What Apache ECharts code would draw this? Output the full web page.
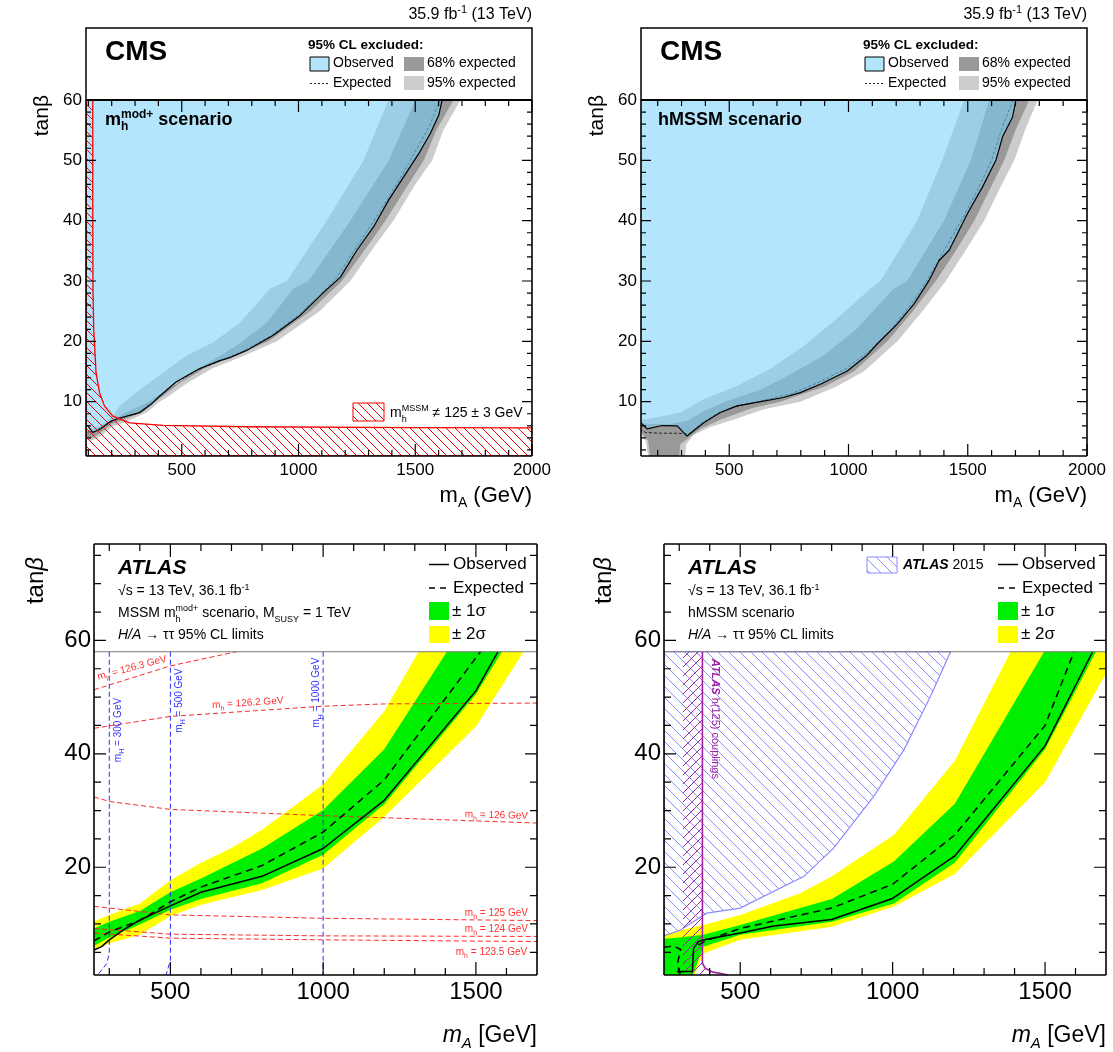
<!DOCTYPE html>
<html>
<head>
<meta charset="utf-8">
<script src="https://cdn.jsdelivr.net/npm/echarts@6/dist/echarts.min.js"></script>
<style>
html, body { margin: 0; background: #fff; }
#chart { width: 1113px; height: 1052px; }
</style>
</head>
<body>
<div id="chart"></div>
<script>
var FONT = '"Liberation Sans", Arial, Helvetica, sans-serif';

// ---- tick labels
var cmsXMajor = [500, 1000, 1500, 2000];
var cmsYMajor = [10, 20, 30, 40, 50, 60];
var atlasXMajor = [500, 1000, 1500];
var atlasYMajor = [20, 40, 60];

// ---- CMS, mh mod+ scenario (mA, tanb), contours from the top edge down to the left edge
var modObs = [[1615,60],[1601,57.5],[1565,54.5],[1515,51.1],[1451,47.3],[1386,43.4],[1322,39.0],[1250,35.1],[1179,30.6],[1110,28.2],[1007,24.3],[892,21.0],[778,18.5],[706,17.3],[663,16.8],[577,15.5],[477,13.3],[405,10.9],[370,9.6],[320,8.2],[234,7.3],[198,6.8],[148,5.4],[119,4.9],[98,6.0],[90,6.0]];
var modExp = [[1605,60],[1560,55.6],[1500,51.5],[1440,47.3],[1375,43.2],[1310,39.2],[1240,35.2],[1165,30.6],[1090,27.6],[995,24.2],[880,20.9],[765,18.4],[690,17.2],[570,15.3],[470,13.1],[400,10.8],[360,9.5],[310,8.1],[230,7.2],[180,6.4],[130,5.1],[100,5.0],[90,5.0]];
var modIn95 = [[1385,60],[1279,50],[1121,40],[950,30],[878,28.7],[749,23.1],[634,19.8],[520,17.6],[420,14.8],[320,12.0],[234,9.3],[205,7.6],[150,6.0],[100,5.5],[90,5.5]];
var modIn68 = [[1500,60],[1387,50],[1222,40],[1043,30],[978,28.7],[864,23.1],[735,19.3],[592,15.9],[463,12.6],[348,9.8],[248,7.9],[180,6.5],[120,5.0],[90,5.0]];
var modOut68 = [[1664,60],[1590,55],[1537,50],[1470,46],[1372,40],[1300,36],[1186,30],[1050,25],[871,20],[720,17.5],[600,15.6],[495,13.2],[420,11],[384,10],[335,8.3],[250,7],[200,6.3],[150,4.8],[110,3.8],[90,4.2]];
var modOut95 = [[1694,60],[1620,55],[1573,50],[1500,46],[1406,40],[1330,36],[1222,30],[1090,25],[907,20],[760,17.5],[630,15.5],[520,13],[440,10.8],[405,10],[350,8.2],[270,6.8],[200,5.8],[150,4.2],[110,3.5],[90,3.8]];
var modHatch = [[90,60],[119,60],[119,40],[120,28.6],[123,22],[126,20],[133,14.8],[148,11.5],[169,9.3],[205,7.6],[277,6.5],[420,6.06],[778,5.85],[1479,5.7],[2000,5.65],[2000,1],[90,1]];

// ---- CMS, hMSSM scenario
var hObs = [[1702,60],[1688,57.2],[1646,53.9],[1618,50],[1562,45.6],[1499,41.2],[1422,35.1],[1380,33.4],[1338,30.1],[1275,26.2],[1205,22.9],[1121,19.6],[1075,17.6],[995,15.1],[882,12.9],[798,11.5],[727,10.7],[644,10.1],[532,9.3],[462,8.2],[393,6.5],[323,4.3],[282,6.0],[219,6.05],[156,5.5],[131,6.5]];
var hExp = [[1690,60],[1640,55],[1600,50],[1540,45],[1480,40.5],[1400,35],[1320,29.5],[1250,25.5],[1180,22],[1090,18.5],[990,15.5],[880,13.3],[760,11.3],[640,10.2],[520,9.1],[440,7.8],[380,6.3],[330,4.7],[290,4.75],[200,4.8],[150,4.9],[131,5.3]];
var hIn95 = [[1485,60],[1393,50],[1288,40],[1134,30],[1089,28.65],[950,23.7],[811,19.2],[671,15.4],[532,12.6],[393,10.4],[295,8.2],[184,7.3],[131,7.0]];
var hIn68 = [[1590,60],[1513,50],[1400,40],[1246,30],[1187,28.65],[1033,22],[894,17.6],[755,14.5],[630,12],[490,10.1],[393,8.4],[323,6.8],[250,6.3],[180,6.3],[131,6.2]];
var hOut68 = [[1758,60],[1700,55],[1653,50],[1590,45],[1527,40],[1450,35],[1366,30],[1270,25],[1163,20],[1022,15],[900,12.5],[714,10],[600,9.0],[462,7.0],[380,5.5],[330,4.0],[295,3.0],[290,1],[168,1],[160,3.5],[140,4.5],[131,5.0]];
var hOut95 = [[1793,60],[1740,55],[1695,50],[1630,45],[1569,40],[1490,35],[1408,30],[1310,25],[1205,20],[1064,15],[950,12.5],[798,10],[650,8.8],[517,7.0],[420,5.8],[350,4.5],[320,3],[315,1],[160,1],[150,3.5],[131,4.5]];

// ---- ATLAS, mh mod+ scenario
var aObsL = [[250,5.4],[275,6.0],[300,7.2],[350,9.1],[400,10.7],[500,13.2],[600,15.6],[800,18.4],[1000,23.3],[1200,31.8],[1500,51.1],[1572,58]];
var aExpL = [[250,7.0],[300,8.6],[400,10.6],[500,13.9],[600,16.5],[800,20.3],[1000,26.2],[1200,35.4],[1515,58]];
var aSig1UpL = [[250,9.2],[300,10.4],[400,12.3],[500,15.6],[600,18.0],[800,23.3],[1000,30.1],[1200,40.8],[1405,58]];
var aSig1LoL = [[250,6.1],[300,7.6],[400,9.9],[500,12.5],[600,14.4],[800,17.2],[1000,22.2],[1200,31.1],[1500,50.5],[1585,58]];
var aSig2UpL = [[250,10.5],[300,11.6],[400,13.6],[500,17.7],[600,20.8],[700,23.4],[800,26.6],[1000,34.6],[1200,47.5],[1312,58]];
var aSig2LoL = [[250,5.4],[300,6.6],[400,8.1],[500,11.4],[600,13.4],[800,16.0],[1000,19.8],[1200,28.9],[1500,44.8],[1656,58]];
var mh1263 = [[250,51.3],[500,55.5],[716,58]];
var mh1262 = [[250,44.5],[500,46.6],[1000,48.4],[1200,48.8],[1700,48.95]];
var mh126 = [[250,32.4],[300,31.6],[500,30.2],[1000,29.1],[1700,27.8]];
var mh125 = [[250,13.1],[500,11.6],[1000,11.0],[1700,10.6]];
var mh124 = [[250,9.2],[500,8.2],[1000,7.9],[1700,7.8]];
var mh1235 = [[250,8.4],[500,7.5],[1000,7.2],[1700,6.9]];
var mH300 = [[300,58],[300,5],[292,3],[262,1]];
var mH500 = [[500,58],[500,3.6],[486,1]];
var mH1000 = [[1000,58],[1000,1]];

// ---- ATLAS, hMSSM scenario
var aObsR = [[292,1.6],[343,1.6],[347,5.7],[363,6.9],[390,7.3],[500,8.4],[610,9.65],[800,10.8],[1000,14.5],[1204,22.0],[1500,41.4],[1656,58]];
var aExpR = [[363,6.3],[390,7.1],[500,9.2],[800,12.8],[1000,17.0],[1204,25.7],[1500,45.0],[1595,58]];
var aExpR2 = [[250,5.9],[281,6.1],[305,5.5],[300,4.5],[295,3.1],[298,1.9],[305,1.3]];
var aSig1UpR = [[250,7.4],[300,7.6],[379,8.1],[500,9.8],[801,14.4],[1004,21.0],[1204,31.2],[1497,58]];
var aSig1LoR = [[250,1],[345,1],[365,4.0],[379,6.0],[500,8.1],[801,10.4],[1004,13.6],[1204,20.8],[1500,40.8],[1667,58]];
var aSig2UpR = [[250,8.1],[303,8.9],[379,9.8],[500,11.6],[697,15.4],[801,18.4],[1004,25.7],[1204,38.8],[1387,58],[1700,58]];
var aSig2LoR = [[250,1],[350,1],[379,4.8],[500,7.2],[801,9.5],[1004,13.1],[1204,18.8],[1500,35.0],[1700,54.2]];
var atlas2015 = [[250,7.9],[250,58],[1190,58],[1124,50.1],[1037,40.7],[938,32.5],[807,23.4],[709,18.4],[500,12.8],[390,11.9],[303,8.9]];
var hcoupLine = [[376,58],[376,3.1],[385,2.2],[410,1.5],[434,1.3],[460,1.0]];
var hcoupHatch = [[312,58],[376,58],[376,3.1],[385,2.2],[410,1.5],[434,1.3],[460,1],[312,1]];

function steps(a, b, d, skip) {
  var out = [];
  for (var v = a; v <= b; v += d) if (skip.indexOf(v) < 0) out.push(v);
  return out;
}
var cmsXMinor = steps(100, 1900, 100, cmsXMajor);
var cmsYMinor = steps(2, 58, 2, cmsYMajor);
var atlasXMinor = steps(300, 1600, 100, atlasXMajor);
var atlasYMinor = steps(5, 75, 5, atlasYMajor);

function hatch(color, dir, size, lw) {
  var c = document.createElement('canvas');
  c.width = c.height = size;
  var g = c.getContext('2d');
  g.strokeStyle = color;
  g.lineWidth = lw;
  for (var k = -1; k <= 1; k++) {
    g.beginPath();
    if (dir > 0) { g.moveTo(k * size, size); g.lineTo(k * size + size, 0); }
    else { g.moveTo(k * size, 0); g.lineTo(k * size + size, size); }
    g.stroke();
  }
  return { image: c, repeat: 'repeat' };
}
var redHatch = hatch('#ff0000', -1, 9, 1);
var blueHatch = hatch('#8c8cff', -1, 11, 1);
var purpleHatch = hatch('#a020a0', 1, 9, 1);

var grids = [
  { left: 86, top: 100, width: 446, height: 356 },
  { left: 641, top: 100, width: 446, height: 356 },
  { left: 94, top: 544, width: 443, height: 431 },
  { left: 664, top: 544, width: 442, height: 431 }
];
var ranges = [
  { x: [90, 2000], y: [1, 60] },
  { x: [130, 2000], y: [1, 60] },
  { x: [250, 1700], y: [1, 77] },
  { x: [250, 1700], y: [1, 77] }
];
function axis(gi, r, major, fs, margin) {
  return {
    type: 'value', gridIndex: gi, min: r[0], max: r[1],
    axisLine: { show: false, onZero: false },
    axisTick: { show: false },
    axisLabel: { customValues: major, fontSize: fs, fontFamily: FONT, color: '#000', margin: margin,
      formatter: function (v) { return String(v); } },
    splitLine: { show: false }
  };
}
var xAxes = [], yAxes = [];
ranges.forEach(function (r, gi) {
  var cms = gi < 2;
  xAxes.push(axis(gi, r.x, cms ? cmsXMajor : atlasXMajor, cms ? 17 : 24, cms ? 6 : 5));
  yAxes.push(axis(gi, r.y, cms ? cmsYMajor : atlasYMajor, cms ? 17 : 24, cms ? 4 : 3));
});

function poly(gi, pts, style, z) {
  return {
    type: 'custom', xAxisIndex: gi, yAxisIndex: gi, clip: true, silent: true, z: z,
    data: [pts[0]],
    renderItem: function (params, api) {
      return { type: 'polygon', shape: { points: pts.map(function (p) { return api.coord(p); }) }, style: style };
    }
  };
}
function line(gi, pts, color, width, dash, z) {
  return {
    type: 'line', xAxisIndex: gi, yAxisIndex: gi, data: pts, symbol: 'none', silent: true, clip: true, z: z,
    lineStyle: { color: color, width: width, type: dash || 'solid' }
  };
}
function leftOf(c, xmin) { return c.concat([[xmin, 60]]); }
function band(up, lo) { return up.concat(lo.slice().reverse()); }

var OBS_BLUE = 'rgba(116,207,250,0.55)';
var series = [];
// CMS panels
[[0, 90, modObs, modExp, modIn95, modIn68, modOut68, modOut95], [1, 131, hObs, hExp, hIn95, hIn68, hOut68, hOut95]].forEach(function (s) {
  var gi = s[0], xm = s[1];
  series.push(poly(gi, leftOf(s[7], xm), { fill: '#cccccc' }, 2));
  series.push(poly(gi, leftOf(s[6], xm), { fill: '#999999' }, 3));
  series.push(poly(gi, leftOf(s[5], xm), { fill: '#cccccc' }, 4));
  series.push(poly(gi, leftOf(s[4], xm), { fill: '#ffffff' }, 5));
  series.push(line(gi, s[3], '#222', 1, [3, 2], 6));
  series.push(poly(gi, leftOf(s[2], xm), { fill: OBS_BLUE }, 7));
  series.push(line(gi, s[2], '#000', 1.2, 'solid', 8));
});
series.push(poly(0, modHatch, { fill: redHatch, stroke: '#ff0000', lineWidth: 1.3 }, 9));

// ATLAS mh mod+
series.push(poly(2, band(aSig2UpL, aSig2LoL), { fill: '#ffff00' }, 2));
series.push(poly(2, band(aSig1UpL, aSig1LoL), { fill: '#00ee00' }, 3));
[mh1263, mh1262, mh126, mh125, mh124, mh1235].forEach(function (d) { series.push(line(2, d, '#ff2a2a', 1, [5, 3], 4)); });
[mH300, mH500, mH1000].forEach(function (d) { series.push(line(2, d, '#2a2aff', 1, [5, 3], 4)); });
series.push(line(2, aExpL, '#000', 1.5, [7, 5], 5));
series.push(line(2, aObsL, '#000', 1.5, 'solid', 5));
series.push(line(2, [[250, 58], [1700, 58]], '#777', 1.2, 'solid', 6));

// ATLAS hMSSM
series.push(poly(3, band(aSig2UpR, aSig2LoR), { fill: '#ffff00' }, 2));
series.push(poly(3, band(aSig1UpR, aSig1LoR), { fill: '#00ee00' }, 3));
series.push(poly(3, atlas2015, { fill: blueHatch, stroke: '#8c8cff', lineWidth: 1.2 }, 4));
series.push(poly(3, hcoupHatch, { fill: purpleHatch }, 4));
series.push(line(3, hcoupLine, '#a020a0', 1.6, 'solid', 5));
series.push(line(3, aExpR, '#000', 1.5, [7, 5], 6));
series.push(line(3, aExpR2, '#000', 1.5, [7, 5], 6));
series.push(line(3, aObsR, '#000', 1.5, 'solid', 6));
series.push(line(3, [[250, 58], [1700, 58]], '#777', 1.2, 'solid', 7));

// inward ticks on all four sides, each one a short line series on the grid's scales
function ticks(gi, xMaj, xMin, yMaj, yMin, o) {
  var r = ranges[gi], G = grids[gi];
  var ux = (r.x[1] - r.x[0]) / G.width, uy = (r.y[1] - r.y[0]) / G.height;
  function add(a, b) {
    series.push({ type: 'line', xAxisIndex: gi, yAxisIndex: gi, data: [a, b], symbol: 'none', silent: true,
      clip: false, z: 20, lineStyle: { color: '#000', width: 1.2 } });
  }
  function xt(vals, L) {
    vals.forEach(function (v) {
      add([v, r.y[0]], [v, r.y[0] + L * uy]);
      add([v, r.y[1]], [v, r.y[1] - L * uy]);
    });
  }
  function yt(vals, L) {
    vals.forEach(function (v) {
      add([r.x[0], v], [r.x[0] + L * ux, v]);
      add([r.x[1], v], [r.x[1] - L * ux, v]);
    });
  }
  xt(xMaj, o.xMaj); xt(xMin, o.xMin); yt(yMaj, o.yMaj); yt(yMin, o.yMin);
}
[0, 1].forEach(function (gi) {
  ticks(gi, cmsXMajor, cmsXMinor, cmsYMajor.slice(0, 5), cmsYMinor, { xMaj: 12, xMin: 6, yMaj: 10, yMin: 5 });
});
[2, 3].forEach(function (gi) {
  ticks(gi, atlasXMajor, atlasXMinor, atlasYMajor, atlasYMinor, { xMaj: 13, xMin: 7, yMaj: 12, yMin: 7 });
});

var chart = echarts.init(document.getElementById('chart'));
chart.setOption({
  animation: false,
  backgroundColor: '#fff',
  grid: grids,
  xAxis: xAxes,
  yAxis: yAxes,
  series: series
});

// ---- text helpers: parts = [text, size, style, dy, stack]
var mctx = document.createElement('canvas').getContext('2d');
function fnt(p) {
  var st = p[2] || '';
  return (st.indexOf('i') >= 0 ? 'italic ' : '') + (st.indexOf('b') >= 0 ? 'bold ' : '') + p[1] + 'px ' + FONT;
}
function label(x, y, parts, opt) {
  opt = opt || {};
  var kids = [], cx = 0, held = 0;
  parts.forEach(function (p) {
    var f = fnt(p);
    mctx.font = f;
    var w = mctx.measureText(p[0]).width;
    kids.push({ type: 'text', x: cx, y: (p[3] || 0) - 0.33 * p[1], z: 100,
      style: { text: p[0], font: f, fill: opt.color || '#000', textAlign: 'left', textVerticalAlign: 'middle', align: 'left', verticalAlign: 'middle' } });
    if (p[4]) { held = Math.max(held, w); } else { cx += Math.max(w, held); held = 0; }
  });
  var shift = opt.align === 'right' ? -cx : (opt.align === 'center' ? -cx / 2 : 0);
  kids.forEach(function (k) { k.x += shift; });
  return { type: 'group', x: x, y: y, rotation: opt.rot || 0, z: 100, children: kids };
}
function rect(x, y, w, h, fill, stroke) {
  return { type: 'rect', z: 100, shape: { x: x, y: y, width: w, height: h }, style: { fill: fill, stroke: stroke || null, lineWidth: 1 } };
}
function seg(x1, y1, x2, y2, color, w, dash) {
  return { type: 'line', z: 120, shape: { x1: x1, y1: y1, x2: x2, y2: y2 }, style: { stroke: color, lineWidth: w, lineDash: dash || null } };
}
function at(gi, p) { return chart.convertToPixel({ xAxisIndex: gi, yAxisIndex: gi }, p); }

var g = [];
// frame boxes
[0, 1, 2, 3].forEach(function (gi) {
  var r = ranges[gi];
  var bl = at(gi, [r.x[0], r.y[0]]), tr = at(gi, [r.x[1], r.y[1]]);
  g.push(seg(bl[0], bl[1], tr[0], bl[1], '#000', 1.6));
  g.push(seg(bl[0], bl[1], bl[0], tr[1], '#000', 1.6));
  g.push(seg(tr[0], bl[1], tr[0], tr[1], '#000', 1.6));
  g.push(seg(bl[0], tr[1], tr[0], tr[1], '#000', gi < 2 ? 2.2 : 1.6));
});

// CMS headers and legends
[0, 555].forEach(function (ox) {
  var box = rect(86 + ox, 28, 446, 72, null, '#000');
  box.style.lineWidth = 1.5;
  g.push(box);
  g.push(label(532 + ox, 20, [['35.9 fb', 16], ['-1', 11, '', -6], [' (13 TeV)', 16]], { align: 'right' }));
  g.push(label(105 + ox, 62, [['CMS', 28, 'b']]));
  g.push(label(308 + ox, 50, [['95% CL excluded:', 13.5, 'b']]));
  g.push(rect(310 + ox, 57, 19, 14, '#b3e5fc', '#000'));
  g.push(label(333 + ox, 68, [['Observed', 14]]));
  g.push(rect(404 + ox, 57, 20, 14, '#999999'));
  g.push(label(427 + ox, 68, [['68% expected', 14]]));
  g.push(seg(310 + ox, 83.5, 329 + ox, 83.5, '#222', 1, [2, 2]));
  g.push(label(333 + ox, 88, [['Expected', 14]]));
  g.push(rect(404 + ox, 76, 20, 14, '#cccccc'));
  g.push(label(427 + ox, 88, [['95% expected', 14]]));
  g.push(label(49 + ox, 95, [['tan\u03b2', 21]], { align: 'right', rot: Math.PI / 2 }));
  g.push(label(532 + ox, 503, [['m', 22], ['A', 14, '', 5], [' (GeV)', 22]], { align: 'right' }));
});
g.push(label(105, 126, [['m', 18, 'b'], ['h', 12, 'b', 5, true], ['mod+', 12, 'b', -7], [' scenario', 18, 'b']]));
g.push(label(658, 126, [['hMSSM scenario', 18, 'b']]));
g.push(rect(353, 403, 31, 18, redHatch, '#ff0000'));
g.push(label(390, 418, [['m', 14], ['h', 9, '', 4, true], ['MSSM', 9, '', -7], [' \u2260 125 \u00b1 3 GeV', 14]]));

// ATLAS headers and legends
[0, 570].forEach(function (ox, i) {
  g.push(label(118 + ox, 575, [['ATLAS', 21, 'bi']]));
  g.push(label(118 + ox, 596, [['\u221as = 13 TeV, 36.1 fb', 14], ['-1', 9, '', -6]]));
  if (i === 0) {
    g.push(label(118, 618, [['MSSM m', 14], ['h', 9, '', 4, true], ['mod+', 9, '', -7], [' scenario, M', 14], ['SUSY', 9, '', 4], [' = 1 TeV', 14]]));
  } else {
    g.push(label(688, 618, [['hMSSM scenario', 14]]));
  }
  g.push(label(118 + ox, 640, [['H/A', 14, 'i'], [' \u2192 \u03c4\u03c4 95% CL limits', 14]]));
  var lx = i === 0 ? 429 : 998;
  g.push(seg(lx, 564.5, lx + 20, 564.5, '#000', 1.5));
  g.push(label(lx + 24, 570, [['Observed', 17]]));
  g.push(seg(lx, 588, lx + 17, 588, '#000', 1.5, [6, 5]));
  g.push(label(lx + 24, 594, [['Expected', 17]]));
  g.push(rect(lx, 602, 20, 18, '#00ee00'));
  g.push(label(lx + 23, 617, [['\u00b1 1\u03c3', 17]]));
  g.push(rect(lx, 626, 20, 17, '#ffff00'));
  g.push(label(lx + 23, 640, [['\u00b1 2\u03c3', 17]]));
  g.push(label((i === 0 ? 44 : 612), 557, [['tan', 24], ['\u03b2', 24, 'i']], { align: 'right', rot: Math.PI / 2 }));
  g.push(label(537 + ox - (i === 0 ? 0 : 1), 1043, [['m', 23, 'i'], ['A', 15, 'i', 6], [' [GeV]', 23]], { align: 'right' }));
});
g.push(rect(867, 557, 30, 16, blueHatch, '#8c8cff'));
g.push(label(903, 570, [['ATLAS', 14, 'bi'], [' 2015', 14]]));

// labels anchored to data points
var mhLabels = [
  [[377, 55.2], '126.3', 0.26], [[754, 49.0], '126.2', 0.066], [[1567, 29.2], '126', -0.03],
  [[1567, 11.96], '125', 0], [[1567, 9.1], '124', 0], [[1551, 5.1], '123.5', 0]
];
mhLabels.forEach(function (m) {
  var q = at(2, m[0]);
  g.push(label(q[0], q[1] + 3.5, [['m', 10], ['h', 7, '', 3], [' = ' + m[1] + ' GeV', 10]], { align: 'center', rot: m[2], color: '#ff3030' }));
});
var mHLabels = [[[328, 44.2], '300'], [[528, 49.4], '500'], [[978, 50.8], '1000']];
mHLabels.forEach(function (m) {
  var q = at(2, m[0]);
  g.push(label(q[0] + 3.5, q[1], [['m', 10], ['H', 7, '', 3], [' = ' + m[1] + ' GeV', 10]], { align: 'center', rot: Math.PI / 2, color: '#3030ff' }));
});
var cq = at(3, [376, 58]);
g.push(label(cq[0] + 9, cq[1] + 7, [['ATLAS', 11, 'bi'], [' h(125) couplings', 11]], { rot: -Math.PI / 2, color: '#a020a0' }));

chart.setOption({ graphic: { elements: g } });
</script>
</body>
</html>
